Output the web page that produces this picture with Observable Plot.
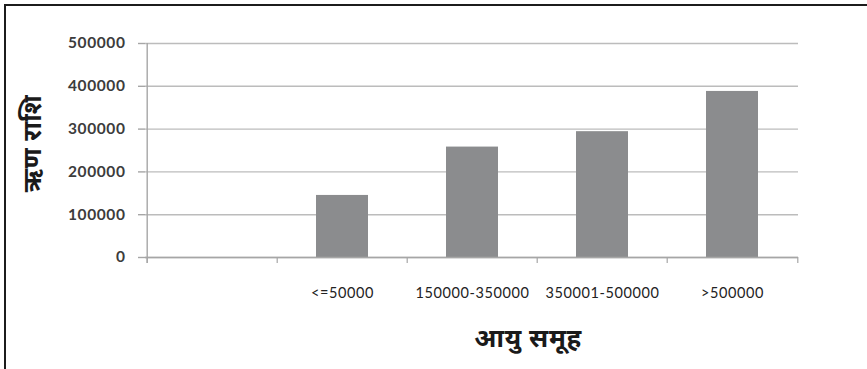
<!DOCTYPE html>
<html>
<head>
<meta charset="utf-8">
<script src="https://cdn.jsdelivr.net/npm/d3@7"></script>
<script src="https://cdn.jsdelivr.net/npm/@observablehq/plot@0.6"></script>
<style>
  html, body { margin: 0; padding: 0; background: #ffffff; }
  #wrap { position: relative; width: 867px; height: 369px; overflow: hidden; }
  #frame { position: absolute; left: 4px; top: 4px; right: 0; bottom: 0;
           border-left: 2px solid #1c1c1c; border-top: 2px solid #1c1c1c; pointer-events: none; }
</style>
</head>
<body>
<div id="wrap"><div id="frame"></div></div>
<script>
// ---- data ----
const categories = ["", "<=50000", "150000-350000", "350001-500000", ">500000"];
const loanAmounts = [null, 145000, 258000, 294000, 388000];
const yTicks = [0, 100000, 200000, 300000, 400000, 500000];
const xTitle = "आयु समूह";
const yTitle = "ऋण राशि";

const rows = categories
  .map((c, i) => ({group: c, amount: loanAmounts[i]}))
  .filter(d => d.amount != null);

// ---- layout ----
const W = 867, H = 369, mL = 145, mR = 69, mT = 43, mB = 112;
const step = (W - mL - mR) / categories.length;
const axisColor = "#a6a6a6";
const latin = "Lato, 'Open Sans', sans-serif";
const deva = "'Noto Sans Devanagari', 'Noto Sans', 'Lohit Devanagari', 'Mangal', sans-serif";

const chart = Plot.plot({
  width: W, height: H,
  marginLeft: mL, marginRight: mR, marginTop: mT, marginBottom: mB,
  style: {fontFamily: latin, background: "transparent", overflow: "visible"},
  x: {domain: categories, paddingInner: 0.6, paddingOuter: 0.3, axis: null},
  y: {domain: [0, 500000], axis: null},
  marks: [
    Plot.gridY(yTicks, {stroke: "#bcbcbc", strokeOpacity: 1, strokeWidth: 1.4}),
    Plot.barY(rows, {x: "group", y: "amount", fill: "#8b8c8e"}),
    // x axis line
    Plot.ruleY([0], {stroke: axisColor, strokeWidth: 1.4}),
    // y axis line (left boundary of first slot)
    Plot.ruleX([categories[0]], {y1: 0, y2: 500000, insetTop: 6, dx: -step / 2, stroke: axisColor, strokeWidth: 1.4}),
    // category boundary ticks
    Plot.ruleX(categories, {y1: 0, y2: 0, insetTop: 6, dx: -step / 2, stroke: axisColor, strokeWidth: 1.2}),
    Plot.ruleX([categories[categories.length - 1]], {y1: 0, y2: 0, insetTop: 6, dx: step / 2, stroke: axisColor, strokeWidth: 1.2}),
    // y axis ticks and labels
    Plot.axisY(yTicks, {
      anchor: "left", tickSize: 7, tickPadding: 13, label: null,
      tickFormat: d => String(d), stroke: axisColor, strokeWidth: 1.4,
      fill: "#3c3c3c", fontSize: 15.5, fontWeight: "bold", fontFamily: latin
    }),
    // x category labels
    Plot.text(rows, {
      x: "group", text: "group", frameAnchor: "bottom", dy: 40,
      fontSize: 14.5, fill: "#222222", fontFamily: latin
    }),
    // axis titles
    Plot.text([yTitle], {
      frameAnchor: "left", textAnchor: "middle", dx: -113, dy: -7, rotate: -90,
      fontSize: 25, fontWeight: "bold", fill: "#1a1a1a", fontFamily: deva
    }),
    Plot.text([xTitle], {
      frameAnchor: "bottom", dx: 56, dy: 89,
      fontSize: 26, fontWeight: "bold", fill: "#1a1a1a", fontFamily: deva
    })
  ]
});
chart.style.letterSpacing = "0.6px";
document.getElementById("wrap").insertBefore(chart, document.getElementById("frame"));
</script>
</body>
</html>
